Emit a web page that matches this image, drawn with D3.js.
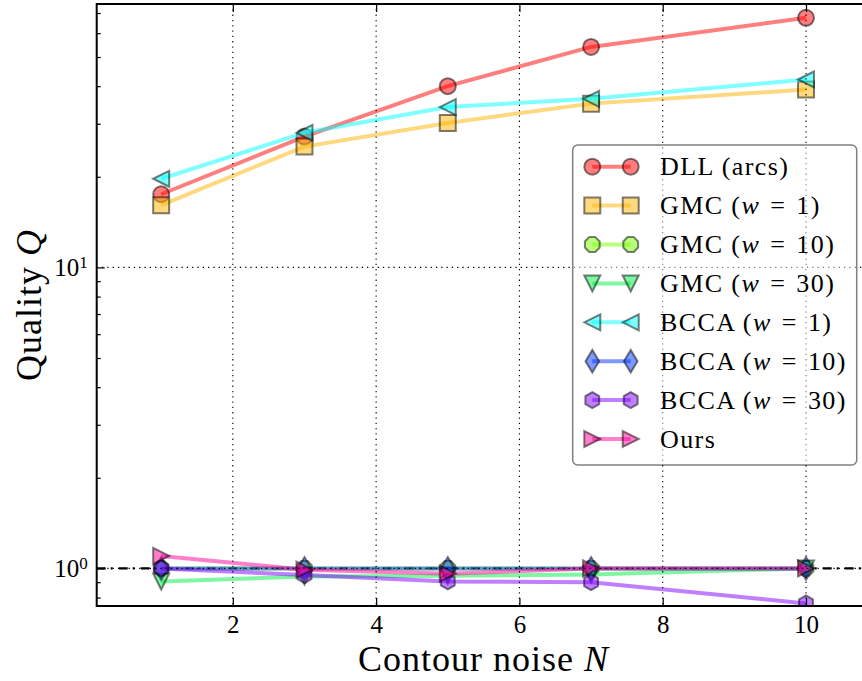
<!DOCTYPE html>
<html>
<head>
<meta charset="utf-8">
<script src="https://cdn.jsdelivr.net/npm/d3@7"></script>
<style>
    body { margin: 0; background: white; }
    svg { display: block; font-family: "Liberation Serif", serif; }
    .axes path.domain { display: none; }
    .axes line { stroke: black; stroke-width: 1.2; }
</style>
</head>
<body>
<div id="canvas"></div>
<script>

// DATA
const noise = [1, 3, 5, 7, 10];
const xTicks = [2, 4, 6, 8, 10];
const yTicks = [1, 10];
const yMinor = [0.8, 0.9, 2, 3, 4, 5, 6, 7, 8, 9, 20, 30, 40, 50, 60, 70];

const names = ["DLL (arcs)", "GMC", "GMC", "GMC", "BCCA", "BCCA", "BCCA", "Ours"];
const weights = [null, 1, 10, 30, 1, 10, 30, null];
const markers = ["o", "s", "8", "v", "<", "d", "h", ">"];
const colors = ["#ff0000", "#ffb400", "#77ff00", "#00ee44", "#00ffff", "#0033ff", "#8000ff", "#ff0099"];

const dll    = [17.5, 27.2, 40.0, 54.0, 67.5];
const gmc1   = [16.1, 25.2, 30.2, 35.0, 39.0];
const gmc10  = [1.0, 1.0, 1.0, 1.0, 1.0];
const gmc30  = [0.905, 0.94, 0.945, 0.955, 1.0];
const bcca1  = [19.7, 28.0, 34.1, 36.3, 42.1];
const bcca10 = [1.0, 1.0, 1.0, 1.0, 1.0];
const bcca30 = [1.0, 0.95, 0.905, 0.90, 0.765];
const ours   = [1.1, 0.99, 0.96, 1.0, 1.0];

const values = [dll, gmc1, gmc10, gmc30, bcca1, bcca10, bcca30, ours];

// DIMENSIONS
const width = 862;
const height = 681;
const plot = { left: 96.7, top: 4, right: 870.5, bottom: 606 };

// CANVAS
const svg = d3.select("#canvas")
    .append("svg")
    .attr("width", width)
    .attr("height", height);

svg.append("clipPath").attr("id", "clip")
    .append("rect")
    .attr("x", plot.left).attr("y", plot.top)
    .attr("width", plot.right - plot.left)
    .attr("height", plot.bottom - plot.top);

// SCALES
const xScale = d3.scaleLinear().domain([0.1, 10.9]).range([plot.left, plot.right]);
const yScale = d3.scaleLog().domain([0.75, 75]).range([plot.bottom, plot.top]);

// MARKER SHAPES (matplotlib-like)
function polygon(n, r, rot) {
    const pts = d3.range(n).map(i => {
        const a = rot + i * 2 * Math.PI / n;
        return [r * Math.sin(a), -r * Math.cos(a)];
    });
    return "M" + pts.map(p => p.join(",")).join("L") + "Z";
}

function markerPath(m, s) {
    const h = s / 2;
    switch (m) {
        case "o": return `M${h},0A${h},${h} 0 1 1 ${-h},0A${h},${h} 0 1 1 ${h},0Z`;
        case "s": return `M${-h},${-h}H${h}V${h}H${-h}Z`;
        case "v": return `M0,${h}L${-h},${-h}L${h},${-h}Z`;
        case "<": return `M${-h},0L${h},${-h}L${h},${h}Z`;
        case ">": return `M${h},0L${-h},${-h}L${-h},${h}Z`;
        case "d": return `M0,${-0.707 * s}L${0.424 * s},0L0,${0.707 * s}L${-0.424 * s},0Z`;
        case "h": return polygon(6, h, 0);
        case "8": return polygon(8, h, Math.PI / 8);
    }
}

const markerSize = 16;

// BASELINE
const data = svg.append("g").attr("clip-path", "url(#clip)");

data.append("line")
    .attr("x1", plot.left).attr("x2", plot.right)
    .attr("y1", yScale(1)).attr("y2", yScale(1))
    .style("stroke", "black")
    .style("stroke-width", 2.4)
    .style("stroke-dasharray", "9,5,2,6");

// THE LINES
const makeLine = d3.line()
    .x((d, i) => xScale(noise[i]))
    .y(d => yScale(d));

values.forEach((vals, k) => {
    data.append("path")
        .attr("d", makeLine(vals))
        .style("fill", "none")
        .style("stroke", colors[k])
        .style("stroke-width", 4)
        .style("stroke-opacity", 0.5);

    data.selectAll(null)
        .data(vals)
        .enter()
        .append("path")
        .attr("d", markerPath(markers[k], markerSize))
        .attr("transform", (d, i) => `translate(${xScale(noise[i])},${yScale(d)})`)
        .style("fill", colors[k])
        .style("fill-opacity", 0.5)
        .style("stroke", "black")
        .style("stroke-opacity", 0.5)
        .style("stroke-width", 2);
});

// GRID (drawn above the lines)
const grid = svg.append("g").attr("clip-path", "url(#clip)");
grid.selectAll(".vgrid")
    .data(xTicks)
    .enter()
    .append("line")
    .attr("x1", d => xScale(d)).attr("x2", d => xScale(d))
    .attr("y1", plot.top).attr("y2", plot.bottom)
    .style("stroke", "black").style("stroke-width", 1.1)
    .style("stroke-dasharray", "1.3,4");
grid.selectAll(".hgrid")
    .data(yTicks)
    .enter()
    .append("line")
    .attr("x1", plot.left).attr("x2", plot.right)
    .attr("y1", d => yScale(d)).attr("y2", d => yScale(d))
    .style("stroke", "black").style("stroke-width", 1.1)
    .style("stroke-dasharray", "1.3,4");

// AXES
const xAx = svg.append("g")
    .attr("class", "axes")
    .attr("transform", `translate(0,${plot.bottom})`)
    .call(d3.axisBottom(xScale).tickValues(xTicks).tickSizeInner(-8).tickSizeOuter(0).tickPadding(9));
xAx.selectAll("text")
    .style("font-family", "Liberation Serif")
    .style("font-size", "25px")
    .style("fill", "black");

svg.append("g")
    .attr("class", "axes")
    .attr("transform", `translate(0,${plot.top})`)
    .call(d3.axisTop(xScale).tickValues(xTicks).tickSizeInner(-8).tickSizeOuter(0).tickFormat(""));

const yAx = svg.append("g")
    .attr("class", "axes")
    .attr("transform", `translate(${plot.left},0)`)
    .call(d3.axisLeft(yScale).tickValues(yTicks).tickSizeInner(-8).tickSizeOuter(0).tickPadding(9));
yAx.selectAll("text")
    .style("font-family", "Liberation Serif")
    .style("font-size", "25px")
    .style("fill", "black")
    .text("")
    .each(function (d) {
        const t = d3.select(this);
        t.append("tspan").text("10");
        t.append("tspan").attr("dy", "-0.45em").style("font-size", "17px")
            .text(Math.round(Math.log10(d)));
    });

svg.append("g")
    .attr("class", "axes")
    .attr("transform", `translate(${plot.left},0)`)
    .call(d3.axisLeft(yScale).tickValues(yMinor).tickSizeInner(-4).tickSizeOuter(0).tickFormat(""));

// SPINES
svg.append("path")
    .attr("d", `M${plot.right},${plot.top}H${plot.left}V${plot.bottom}H${plot.right}`)
    .style("fill", "none")
    .style("stroke", "black")
    .style("stroke-width", 2);

// LABELS
svg.append("text")
    .attr("x", (plot.left + plot.right) / 2)
    .attr("y", 671)
    .attr("text-anchor", "middle")
    .style("font-size", "36px")
    .style("letter-spacing", "1px")
    .text("Contour noise ")
    .append("tspan").style("font-style", "italic").text("N");

svg.append("text")
    .attr("transform", `translate(41,${(plot.top + plot.bottom) / 2}) rotate(-90)`)
    .attr("text-anchor", "middle")
    .style("font-size", "36px")
    .style("letter-spacing", "1px")
    .text("Quality ")
    .append("tspan").style("font-style", "italic").text("Q");

// LEGEND
const legend = svg.append("g");
legend.append("rect")
    .attr("x", 572.7).attr("y", 145)
    .attr("width", 284).attr("height", 320)
    .attr("rx", 5)
    .style("fill", "white").style("fill-opacity", 0.5)
    .style("stroke", "black").style("stroke-opacity", 0.5)
    .style("stroke-width", 1.5);

names.forEach((name, k) => {
    const cy = 166.7 + k * 38.9;
    legend.append("line")
        .attr("x1", 592.3).attr("x2", 630.7)
        .attr("y1", cy).attr("y2", cy)
        .style("stroke", colors[k]).style("stroke-width", 4).style("stroke-opacity", 0.5);
    [592.3, 630.7].forEach(mx => {
        legend.append("path")
            .attr("d", markerPath(markers[k], markerSize))
            .attr("transform", `translate(${mx},${cy})`)
            .style("fill", colors[k]).style("fill-opacity", 0.5)
            .style("stroke", "black").style("stroke-opacity", 0.5)
            .style("stroke-width", 2);
    });
    const t = legend.append("text")
        .attr("x", 660).attr("y", cy + 8.5)
        .style("font-size", "26px")
        .style("letter-spacing", "1.4px");
    if (weights[k] === null) {
        t.text(name);
    } else {
        t.append("tspan").text(name + " (");
        t.append("tspan").style("font-style", "italic").text("w");
        t.append("tspan").text("\u2004=\u2004" + weights[k] + ")");
    }
});

</script>
</body>
</html>
